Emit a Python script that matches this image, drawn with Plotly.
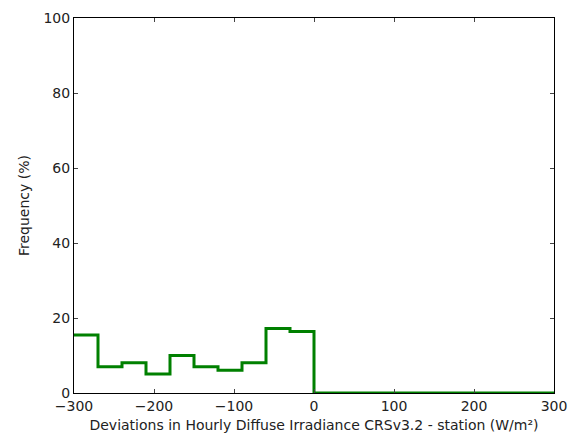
import plotly.graph_objects as go

bin_edges = [-300, -270, -240, -210, -180, -150, -120, -90, -60, -30, 0, 30, 60, 90, 120, 150, 180, 210, 240, 270, 300]
frequency = [15.5, 7.0, 8.1, 5.1, 10.0, 7.0, 6.1, 8.1, 17.2, 16.4, 0, 0, 0, 0, 0, 0, 0, 0, 0, 0]

xs = list(bin_edges)
ys = list(frequency) + [frequency[-1]]

fig = go.Figure()
fig.add_trace(go.Scatter(x=xs, y=ys, mode="lines", line=dict(shape="hv", color="#008000", width=3), showlegend=False))

font = dict(family="DejaVu Sans", size=14, color="#222")
fig.update_layout(
    width=569, height=437,
    margin=dict(l=74, r=15, t=18, b=44),
    plot_bgcolor="white", paper_bgcolor="white",
    font=font,
)
fig.update_xaxes(range=[-300, 300], tickvals=[-300, -200, -100, 0, 100, 200, 300],
                 ticktext=["\u2212300", "\u2212200", "\u2212100", "0", "100", "200", "300"],
                 ticks="inside", ticklen=4, mirror="ticks", showline=True, linecolor="black", linewidth=1,
                 showgrid=False, zeroline=False, automargin=False,
                 title=dict(text="Deviations in Hourly Diffuse Irradiance CRSv3.2 - station (W/m\u00b2)", standoff=7, font=dict(size=14)))
fig.update_yaxes(range=[0, 100], tickvals=[0, 20, 40, 60, 80, 100],
                 ticks="inside", ticklen=4, mirror="ticks", showline=True, linecolor="black", linewidth=1,
                 showgrid=False, zeroline=False, automargin=False,
                 title=dict(text="Frequency (%)", standoff=10, font=dict(size=14)))
fig.write_html("out.html", config={"displayModeBar": False},
               post_script="document.body.style.margin='0';document.body.style.overflow='hidden';")
